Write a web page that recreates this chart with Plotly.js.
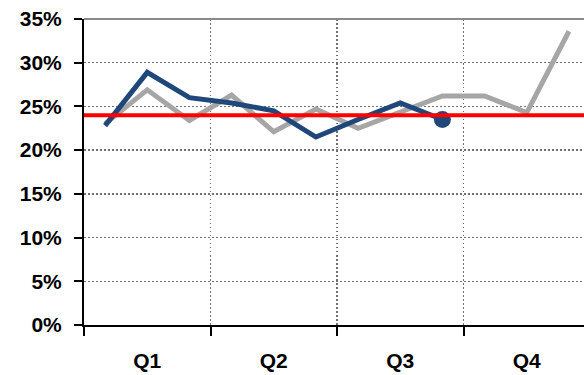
<!DOCTYPE html>
<html>
<head>
<meta charset="utf-8">
<script src="https://cdn.plot.ly/plotly-3.0.1.min.js"></script>
<style>
  html, body { margin: 0; padding: 0; background: #fff; }
  #chart { width: 584px; height: 375px; }
</style>
</head>
<body>
<div id="chart"></div>
<script>
// Monthly positions (0 = first month of Q1 ... 11 = last month of Q4)
const months = [0, 1, 2, 3, 4, 5, 6, 7, 8, 9, 10, 11];
const quarterLabels = ['Q1', 'Q2', 'Q3', 'Q4'];
const quarterCenters = [1, 4, 7, 10];

// Prior year, full twelve months
const priorYear = [0.230, 0.269, 0.234, 0.263, 0.221, 0.247, 0.225, 0.244, 0.262, 0.262, 0.243, 0.336];
// Current year, year to date
const currentYear = [0.228, 0.289, 0.260, 0.254, 0.245, 0.215, 0.235, 0.254, 0.235];
// Target rate
const target = 0.24;

const axisFont = { family: 'Liberation Sans, Arial, sans-serif', size: 21, color: '#000', weight: 700 };
const gridDots = '1.5px,2.5px';

const traces = [
  {
    x: months,
    y: priorYear,
    type: 'scatter',
    mode: 'lines',
    line: { color: '#a6a6a6', width: 5 },
    hoverinfo: 'skip'
  },
  {
    x: months.slice(0, currentYear.length),
    y: currentYear,
    type: 'scatter',
    mode: 'lines',
    line: { color: '#1f477a', width: 5 },
    hoverinfo: 'skip'
  },
  {
    x: [months[currentYear.length - 1]],
    y: [currentYear[currentYear.length - 1]],
    type: 'scatter',
    mode: 'markers',
    marker: { color: '#1f477a', size: 17 },
    hoverinfo: 'skip'
  }
];

const layout = {
  width: 584,
  height: 375,
  margin: { l: 84, r: 0, t: 19, b: 50 },
  paper_bgcolor: '#fff',
  plot_bgcolor: '#fff',
  showlegend: false,
  xaxis: {
    range: [-0.5, 11.357],
    tickmode: 'array',
    tickvals: quarterCenters,
    ticktext: quarterLabels,
    ticks: '',
    showgrid: false,
    zeroline: false,
    showline: true,
    linecolor: '#000',
    linewidth: 2,
    tickfont: axisFont,
    ticklabelstandoff: 16,
    minor: {
      tick0: -0.5,
      dtick: 3,
      ticks: 'outside',
      ticklen: 9,
      tickwidth: 2,
      tickcolor: '#000',
      showgrid: true,
      gridcolor: '#6f6f6f',
      gridwidth: 1.5,
      griddash: gridDots
    }
  },
  yaxis: {
    range: [0, 0.35],
    tickmode: 'linear',
    tick0: 0,
    dtick: 0.05,
    tickformat: '.0%',
    ticks: 'outside',
    ticklen: 8,
    tickwidth: 2,
    tickcolor: '#000',
    showgrid: true,
    gridcolor: '#6f6f6f',
    gridwidth: 1.5,
    griddash: gridDots,
    zeroline: false,
    showline: true,
    linecolor: '#000',
    linewidth: 2,
    tickfont: axisFont,
    ticklabelstandoff: 8
  },
  shapes: [
    {
      type: 'line', xref: 'paper', yref: 'paper',
      x0: 0, x1: 1, y0: 1, y1: 1,
      line: { color: '#8a8a8a', width: 2 }
    },
    {
      type: 'line', xref: 'paper', yref: 'y',
      x0: 0, x1: 1, y0: target, y1: target,
      layer: 'above',
      line: { color: '#ff0000', width: 4 }
    }
  ]
};

Plotly.newPlot('chart', traces, layout, { displayModeBar: false, staticPlot: true });
</script>
</body>
</html>
